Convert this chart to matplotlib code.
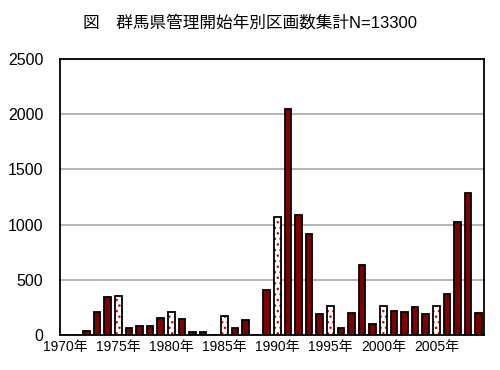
import matplotlib
matplotlib.use("Agg")
import matplotlib.pyplot as plt

plt.rcParams['font.family'] = ['Liberation Sans', 'Noto Sans CJK JP', 'DejaVu Sans']
plt.rcParams['hatch.linewidth'] = 1.0

years = list(range(1970, 2010))
counts = [0, 0, 35, 205, 345, 355, 60, 80, 80, 155,
          205, 140, 25, 25, 0, 175, 65, 135, 0, 410,
          1070, 2045, 1090, 915, 185, 265, 65, 200, 635, 95,
          265, 220, 205, 255, 190, 265, 370, 1025, 1285, 200]
tick_labels = ["1970年", "1975年", "1980年", "1985年", "1990年", "1995年", "2000年", "2005年"]
title = "図　群馬県管理開始年別区画数集計N=13300"

x = list(range(len(years)))
fig = plt.figure(figsize=(5, 3.7), dpi=100)
ax = fig.add_axes([0.12, 0.095, 0.848, 0.745])

plain_x = [i for i, y in enumerate(years) if y % 5 != 0]
dot_x = [i for i, y in enumerate(years) if y % 5 == 0]

ax.bar(plain_x, [counts[i] for i in plain_x], width=0.62,
       color="#800000", edgecolor="black", linewidth=1.3, zorder=3)
# dotted bars: white fill with red dots, black outline drawn on top
ax.bar(dot_x, [counts[i] for i in dot_x], width=0.62,
       color="white", edgecolor="#e00000", hatch="...", linewidth=0, zorder=3)
ax.bar(dot_x, [counts[i] for i in dot_x], width=0.62,
       fill=False, edgecolor="black", linewidth=1.3, zorder=4)

ax.set_xlim(-0.5, len(years) - 0.5)
ax.set_ylim(0, 2500)
ax.set_yticks(range(0, 2501, 500))
ax.set_xticks(x[::5])
ax.set_xticklabels(tick_labels)
ax.tick_params(axis="both", length=0)
ax.tick_params(axis="y", pad=12, labelsize=11.5)
ax.tick_params(axis="x", pad=4, labelsize=10)
ax.yaxis.grid(True, color="#a8a8a8", linewidth=1.2, zorder=0)
for s in ax.spines.values():
    s.set_color("black")
    s.set_linewidth(1.3)

fig.text(0.5, 0.94, title, ha="center", va="center", fontsize=12)

fig.savefig("out.png", dpi=100)
